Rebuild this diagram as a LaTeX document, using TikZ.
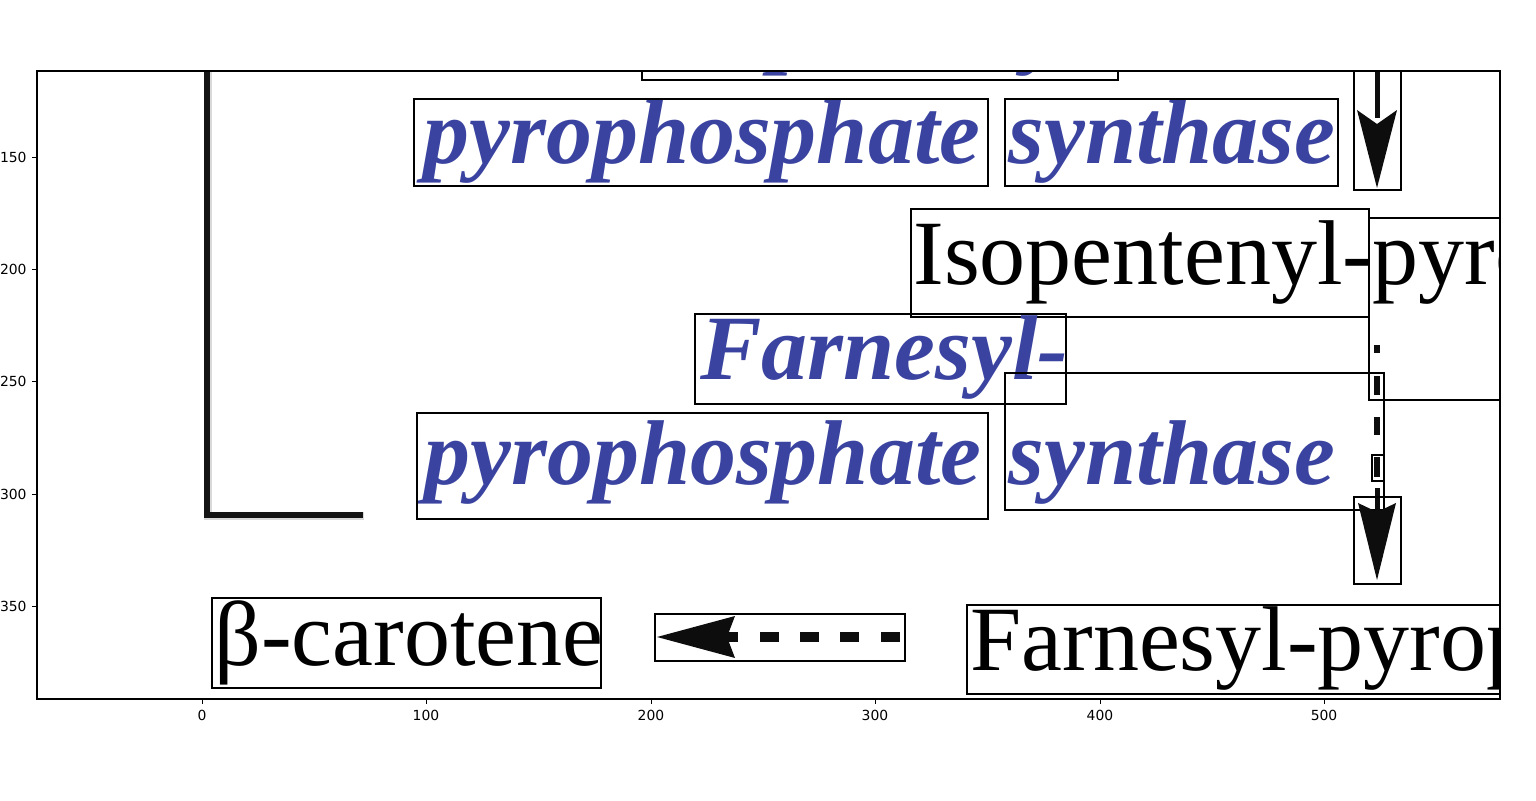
\documentclass[tikz,border=0pt]{standalone}
\usepackage{fontspec}
\setmainfont{Liberation Serif}
\newfontfamily\tickfont{DejaVu Sans}
\definecolor{enz}{RGB}{58,68,160}
\begin{document}
\begin{tikzpicture}[x=0.5pt,y=-0.5pt,
  bx/.style={draw=black,line width=1.35pt},
  enzt/.style={anchor=base west,inner sep=0,text=enz,font=\fontsize{46}{46}\selectfont\bfseries\itshape},
  molt/.style={anchor=base west,inner sep=0,font=\fontsize{46}{46}\selectfont},
  ticklab/.style={font=\tickfont\fontsize{6.95}{8}\selectfont,inner sep=0},
  tickmark/.style={line width=0.45pt},
  headfill/.style={fill=black!95,draw=none},
]
\useasboundingbox (0,0) rectangle (1536,801);
\begin{scope}
\clip (37,71) rectangle (1500,699);
% L-shaped line
\draw[line width=4.2pt,black!15,line join=miter] (208,60) -- (208,516) -- (364,516);
\draw[line width=3.3pt,black!92,line join=miter] (207,60) -- (207,515) -- (363,515);
% top clipped row
\node[enzt] (t0) at (652,57) {Isopentenyl-};
\draw[bx] (642,60) rectangle (1118,80);
% row 1
\node[enzt] (p1) at (423,164) {pyrophosphate};
\draw[bx] (414,99) rectangle (988,186);
\node[enzt] (s1) at (1008,164) {synthase};
\draw[bx] (1005,99) rectangle (1338,186);
% arrow 1
\fill[black!95] (1375,60) rectangle (1380,118);
\fill[headfill] (1357,110) -- (1377,124) -- (1397,110) -- (1377,188) -- cycle;
\draw[bx] (1354,60) rectangle (1401,190);
% Isopentenyl-pyro
\node[molt] (ipp) at (913,285) {Isopentenyl-};
\draw[bx] (911,209) rectangle (1369,317);
\node[molt] (ipp2) at (1372,285) {pyrophosphate};
\draw[line width=1pt] (1369,218) rectangle (1560,400);
% Farnesyl-
\node[enzt] (f2) at (700,380) {Farnesyl-};
\draw[bx] (695,314) rectangle (1066,404);
% row 2
\node[enzt] (p2) at (424,485) {pyrophosphate};
\draw[bx] (417,413) rectangle (988,519);
\node[enzt] (s2) at (1008,485) {synthase};
\draw[bx] (1005,373) rectangle (1384,510);
% dashed vertical
\fill[black!95] (1374,345) rectangle (1380,353);
\fill[black!95] (1374,376) rectangle (1380,395);
\fill[black!95] (1374,417) rectangle (1380,435);
\fill[black!95] (1374,457) rectangle (1380,477);
\draw[bx] (1372,455) rectangle (1384,481);
% arrow 2
\fill[black!95] (1375,488) rectangle (1380,512);
\fill[headfill] (1358,503) -- (1377,512) -- (1396,503) -- (1377,580) -- cycle;
\draw[bx] (1354,497) rectangle (1401,584);
% beta-carotene
\node[molt] (bc) at (214,665) {β-carotene};
\draw[bx] (212,598) rectangle (601,688);
% left dashed arrow
\fill[headfill] (657,637) -- (735,616) -- (727,637) -- (735,658) -- cycle;
\fill[black!95] (727,632) rectangle (738,642);
\foreach \a in {760,800,840,881}{\fill[black!95] (\a,632) rectangle ({\a+19},642);}
\draw[bx] (655,614) rectangle (905,661);
% Farnesyl-pyrophosphate
\node[molt] (fpp) at (970,670) {Farnesyl-pyrophosphate};
\draw[bx] (967,605) rectangle (1560,694);
\end{scope}
% axes frame
\draw[line width=0.55pt] (37,71) rectangle (1500,699);
% x ticks
\foreach \px/\lab in {202/0,426/100,651/200,875/300,1100/400,1324/500}{
  \draw[tickmark] (\px,699) -- (\px,704);
  \node[ticklab,anchor=north] at (\px,710) {\lab};
}
% y ticks
\foreach \py/\lab in {157/150,269/200,381/250,494/300,606/350}{
  \draw[tickmark] (37,\py) -- (32,\py);
  \node[ticklab,anchor=east] at (27,\py) {\lab};
}
\end{tikzpicture}
\end{document}
